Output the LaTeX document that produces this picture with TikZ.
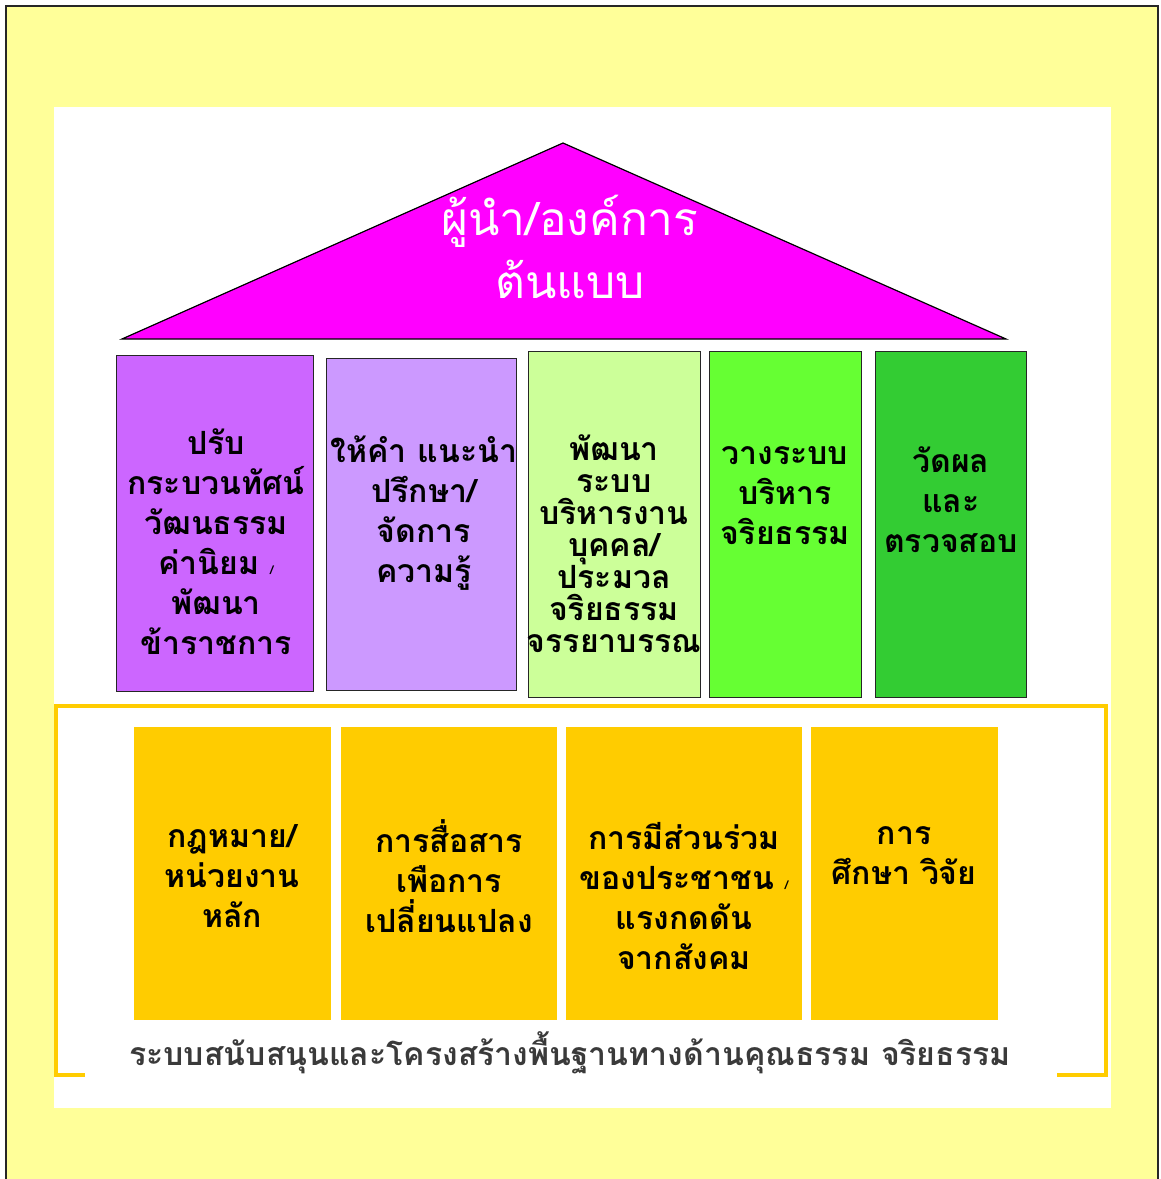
\documentclass[tikz,border=0pt]{standalone}
\usepackage{fontspec}
\newfontfamily\thaifont[Script=Thai]{Loma}
\definecolor{paleyellow}{HTML}{FFFF99}
\definecolor{gold}{HTML}{FFCC00}
\definecolor{roofpink}{HTML}{FF00FF}
\definecolor{violetA}{HTML}{CC66FF}
\definecolor{violetB}{HTML}{CC99FF}
\definecolor{greenA}{HTML}{CCFF99}
\definecolor{greenB}{HTML}{66FF33}
\definecolor{greenC}{HTML}{33CC33}
\definecolor{captiongray}{HTML}{3A3A3A}
\begin{document}
\begin{tikzpicture}[x=1pt,y=-1pt,
    pillar/.style ={draw=black!85, line width=1.3pt, anchor=north west, inner sep=0pt},
    support/.style ={fill=gold, anchor=north west, inner sep=0pt},
    words/.style ={align=center, font=\thaifont\bfseries\fontsize{32}{40}\selectfont}]
   \useasboundingbox (0,0) rectangle (1161,1179);
   % background and frame
   \fill[paleyellow] (6,6) rectangle (1158,1190);
   \draw[line width=2.5pt, black!85] (6,1190) -- (6,6) -- (1158,6) -- (1158,1190);
   \fill[white] (54,107) rectangle (1111,1108);
   % roof
   \coordinate (roofL) at (122,339);
   \coordinate (roofT) at (563,143);
   \coordinate (roofR) at (1006,339);
   \draw[fill=roofpink, line width=1.2pt] (roofL) -- (roofT) -- (roofR) -- cycle;
   \node[align=center, text=white, font=\thaifont\fontsize{46}{63}\selectfont] (roof) at (570,247) {ผู้นำ/องค์การ\\ต้นแบบ};
   % pillars
   \node[pillar, fill=violetA, minimum width=197pt, minimum height=336pt] (p1) at (116,355) {};
   \node[pillar, fill=violetB, minimum width=190pt, minimum height=332pt] (p2) at (326,358) {};
   \node[pillar, fill=greenA, minimum width=172pt, minimum height=346pt] (p3) at (528,351) {};
   \node[pillar, fill=greenB, minimum width=152pt, minimum height=346pt] (p4) at (709,351) {};
   \node[pillar, fill=greenC, minimum width=151pt, minimum height=346pt] (p5) at (875,351) {};
   \node[words] (t1) at (216,542) {ปรับ\\กระบวนทัศน์\\วัฒนธรรม\\ค่านิยม {\fontsize{12}{12}\selectfont /}\\พัฒนา\\ข้าราชการ};
   \node[words] (t2) at (424,513) {ให้คำ แนะนำ\\ปรึกษา/\\จัดการ\\ความรู้};
   \node[words, font=\thaifont\bfseries\fontsize{32}{32}\selectfont] (t3) at (614,544) {พัฒนา\\ระบบ\\บริหารงาน\\บุคคล/\\ประมวล\\จริยธรรม\\จรรยาบรรณ};
   \node[words] (t4) at (785,496) {วางระบบ\\บริหาร\\จริยธรรม};
   \node[words] (t5) at (951,500) {วัดผล\\และ\\ตรวจสอบ};
   % support frame
   \draw[gold, line width=4pt] (85,1075) -| (56,706) -| (1106,1075) -- (1057,1075);
   \node[support, minimum width=197pt, minimum height=293pt] (b1) at (134,727) {};
   \node[support, minimum width=216pt, minimum height=293pt] (b2) at (341,727) {};
   \node[support, minimum width=236pt, minimum height=293pt] (b3) at (566,727) {};
   \node[support, minimum width=187pt, minimum height=293pt] (b4) at (811,727) {};
   \node[words] (s1) at (232,876) {กฎหมาย/\\หน่วยงาน\\หลัก};
   \node[words] (s2) at (449,876) {การสื่อสาร\\เพือการ\\เปลี่ยนแปลง};
   \node[words] (s3) at (684,896) {การมีส่วนร่วม\\ของประชาชน {\fontsize{12}{12}\selectfont /}\\แรงกดดัน\\จากสังคม};
   \node[words] (s4) at (904,856) {การ\\ศึกษา วิจัย};
   \node[font=\thaifont\bfseries\fontsize{32}{36}\selectfont, text=captiongray] (caption) at (570,1053) {ระบบสนับสนุนและโครงสร้างพื้นฐานทางด้านคุณธรรม จริยธรรม};
\end{tikzpicture}
\end{document}
